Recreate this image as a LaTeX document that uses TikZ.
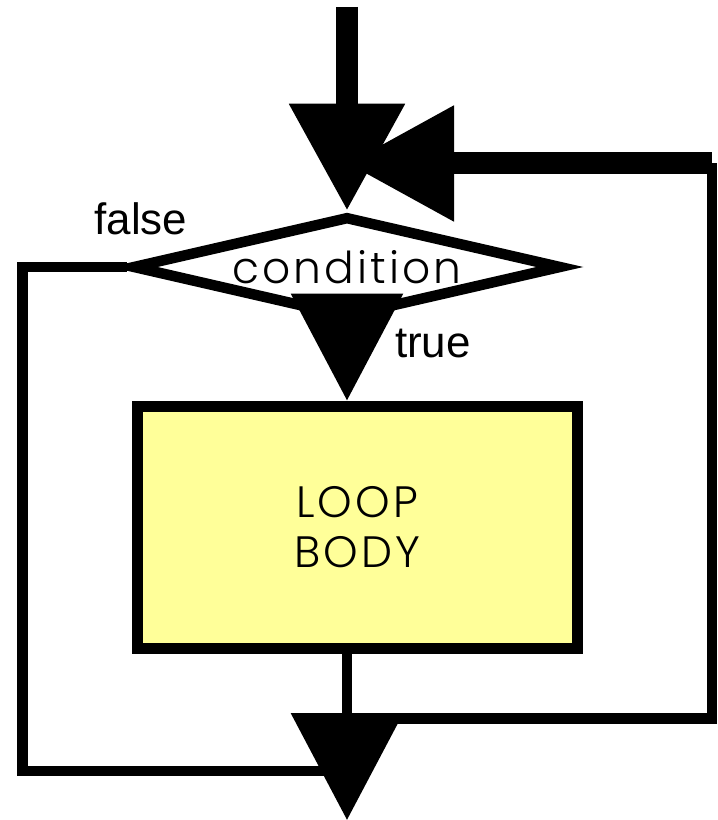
\documentclass[tikz,border=0pt]{standalone}
\usepackage{fontspec}
\setmainfont{Liberation Sans}
\newfontfamily\gothicfont{Poppins Light}[LetterSpace=7]
\usetikzlibrary{arrows.meta, shapes.geometric}
\definecolor{bodyyellow}{RGB}{255,255,153}

\begin{document}
\begin{tikzpicture}[
    thinline/.style={line width=0.21cm},
    thickline/.style={line width=0.44cm},
    bigtip/.style={-{Triangle[length=2.14cm, width=2.2cm]}},
    test/.style={diamond, draw, thinline, fill=white, aspect=4.1, inner sep=0pt,
        minimum width=8.6cm, minimum height=2.04cm,
        font=\gothicfont\fontsize{25}{28.5}\selectfont},
    loopbox/.style={rectangle, draw, line width=0.22cm, fill=bodyyellow, align=center,
        minimum width=8.79cm, minimum height=4.85cm,
        font=\gothicfont\fontsize{25}{28.5}\selectfont},
    branchlabel/.style={anchor=base, font=\fontsize{25}{30}\selectfont}
]
    \useasboundingbox (0,0) rectangle (14.36,-16.4);

    % the test and the body
    \node[test] (cond) at (6.94,-5.34) {condition};
    \node[loopbox] (body) at (7.145,-10.545) {LOOP\\BODY};
    \node[branchlabel] (falselabel) at (2.82,-4.68) {false};
    \node[branchlabel] (truelabel) at (8.66,-7.14) {true};

    \coordinate (entry) at (6.94,-0.14);
    \coordinate (exit) at (6.94,-16.4);
    \coordinate (falsecorner) at (0.45,-15.42);
    \coordinate (backcorner) at (14.24,-14.37);
    \coordinate (backtop) at (14.24,-3.27);

    % false branch goes round to the exit
    \draw[thinline] (cond.west) -| (falsecorner) -- (falsecorner -| cond);

    % back up to the test
    \draw[thinline] (backcorner -| cond) -- (backcorner) -- (backtop);
    \draw[thickline, bigtip] (backtop) -- (backtop -| cond);

    % in, true, out
    \draw[thickline, bigtip] (entry) -- (cond.north);
    \draw[thinline, bigtip] (cond.south) -- (cond.south |- body.north);
    \draw[thinline, bigtip] (body.south -| cond) -- (exit);
\end{tikzpicture}
\end{document}
